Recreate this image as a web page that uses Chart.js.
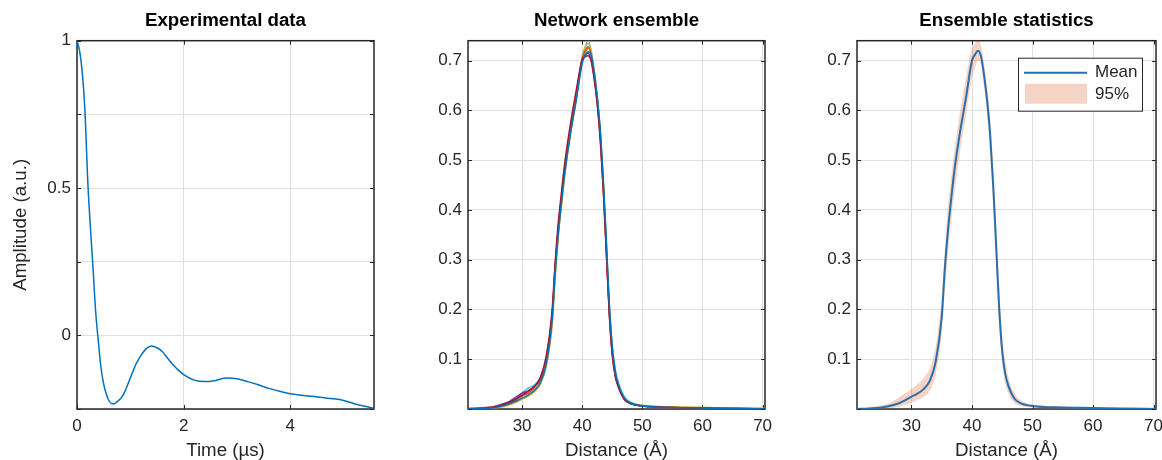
<!DOCTYPE html>
<html>
<head>
<meta charset="utf-8">
<script src="https://cdn.jsdelivr.net/npm/chart.js@4.4.1/dist/chart.umd.min.js"></script>
<style>
    body { margin: 0; background: #fff; }
    canvas { position: absolute; top: 0; }
</style>
</head>
<body>
<canvas id="expData" width="390" height="460" style="left:0"></canvas>
<canvas id="ensemble" width="390" height="460" style="left:390px"></canvas>
<canvas id="stats" width="382" height="460" style="left:780px"></canvas>
<script>
// experimental trace
const timeUs = [0, 0.05, 0.1, 0.15, 0.2, 0.25, 0.3, 0.35, 0.4, 0.45, 0.5, 0.55, 0.6, 0.65, 0.7, 0.75, 0.8, 0.85, 0.9, 0.95,
    1.0, 1.05, 1.1, 1.15, 1.2, 1.3, 1.4, 1.5, 1.6, 1.7, 1.8, 1.9, 2.0, 2.2, 2.4, 2.6, 2.8, 3.0, 3.2, 3.4, 3.6, 3.8,
    4.0, 4.2, 4.4, 4.6, 4.8, 5.0, 5.2, 5.4, 5.57];
const amplitude = [1.0, 0.965, 0.89, 0.76, 0.53, 0.37, 0.23, 0.08, -0.02, -0.11, -0.165, -0.20, -0.222, -0.232, -0.232, -0.226, -0.218, -0.207, -0.19, -0.168,
    -0.145, -0.122, -0.10, -0.083, -0.068, -0.045, -0.036, -0.042, -0.055, -0.078, -0.10, -0.118, -0.133, -0.152, -0.157, -0.153, -0.145, -0.147, -0.157, -0.168, -0.180, -0.190,
    -0.198, -0.203, -0.207, -0.211, -0.215, -0.221, -0.232, -0.241, -0.248];

// distance distributions
const distance = [21, 23, 25, 26, 27, 28, 29, 30, 31, 32, 33, 34, 35, 35.5, 36, 36.5, 37, 37.5, 38, 39,
    40, 40.5, 41, 41.5, 42, 42.5, 43, 43.5, 44, 44.5, 45, 45.5, 46, 47, 48, 50, 55, 60, 65, 70.4];

const run1 = [0, .001, .002, .004, .007, .011, .016, .022, .028, .037, .052, .09, .18, .275, .35, .41, .465, .51, .55, .62,
    .695, .71, .718, .71, .675, .625, .56, .46, .34, .21, .125, .075, .05, .022, .012, .006, .003, .002, .001, 0];
const run2 = [0, .001, .003, .006, .009, .014, .02, .028, .036, .045, .062, .105, .2, .295, .372, .43, .485, .53, .57, .64,
    .702, .708, .71, .698, .662, .612, .54, .44, .315, .19, .108, .065, .044, .019, .011, .006, .003, .002, .001, 0];
const run3 = [0, .002, .004, .006, .009, .013, .019, .026, .032, .042, .06, .10, .19, .285, .36, .42, .475, .52, .56, .63,
    .705, .72, .728, .712, .672, .62, .548, .445, .32, .195, .11, .067, .045, .02, .011, .006, .003, .002, .001, 0];
const run4 = [0, 0, .002, .003, .005, .009, .014, .02, .026, .034, .05, .088, .178, .272, .348, .41, .465, .512, .552, .625,
    .705, .725, .735, .715, .675, .622, .552, .452, .328, .2, .113, .068, .045, .02, .011, .006, .004, .003, .002, .001];
const run5 = [.001, .002, .004, .007, .011, .016, .024, .032, .036, .044, .058, .096, .19, .285, .36, .418, .472, .518, .558, .628,
    .7, .712, .715, .7, .665, .615, .545, .445, .32, .195, .112, .068, .046, .02, .011, .006, .003, .002, .001, 0];
const run6 = [0, .001, .002, .004, .006, .009, .014, .02, .027, .035, .05, .085, .17, .265, .345, .405, .46, .508, .55, .622,
    .698, .715, .725, .712, .675, .625, .555, .455, .33, .205, .118, .072, .048, .022, .013, .007, .004, .003, .002, .001];
const run7 = [0, .001, .003, .006, .01, .015, .022, .032, .042, .048, .062, .1, .188, .282, .358, .418, .472, .518, .56, .632,
    .708, .728, .74, .72, .68, .63, .56, .462, .34, .215, .128, .08, .054, .025, .014, .007, .004, .002, .001, 0];
const runColors = ['#0072BD', '#A2142F', '#D95319', '#EDB120', '#7E2F8E', '#77AC30', '#4DBEEE'];

const meanP = [0, .001, .003, .005, .008, .012, .018, .025, .031, .040, .056, .095, .185, .28, .355, .415, .47, .515, .555, .625,
    .70, .712, .72, .708, .67, .62, .55, .45, .325, .20, .115, .07, .047, .021, .012, .006, .003, .002, .001, 0];
const lowerP = [0, 0, 0, 0, .002, .004, .008, .012, .018, .024, .036, .070, .150, .235, .31, .37, .425, .47, .515, .59,
    .665, .685, .70, .69, .645, .59, .515, .41, .285, .165, .09, .05, .032, .012, .006, .003, .001, 0, 0, 0];
const upperP = [.001, .003, .007, .010, .016, .024, .032, .040, .050, .062, .082, .125, .225, .32, .40, .46, .51, .555, .595, .665,
    .725, .735, .742, .73, .695, .645, .585, .49, .37, .245, .145, .095, .065, .032, .018, .009, .005, .003, .002, .001];

const FONT = '"Liberation Sans", Arial, Helvetica, sans-serif';
const INK = '#262626';
Chart.defaults.font.family = FONT;
Chart.defaults.color = INK;
Chart.defaults.devicePixelRatio = 1;

function pts(xs, ys) {
    return xs.map((x, i) => ({ x: x, y: ys[i] }));
}

// box round the axes with inward tick marks
const boxPlugin = {
    id: 'axesBox',
    beforeDatasetsDraw(chart) {
        const { ctx, chartArea: a, scales } = chart;
        ctx.save();
        ctx.strokeStyle = INK;
        ctx.lineWidth = 1;
        ctx.beginPath();
        scales.x.ticks.forEach(t => {
            const px = Math.round(scales.x.getPixelForValue(t.value)) + 0.5;
            ctx.moveTo(px, a.top); ctx.lineTo(px, a.top + 4);
            ctx.moveTo(px, a.bottom); ctx.lineTo(px, a.bottom - 4);
        });
        scales.y.ticks.forEach(t => {
            const py = Math.round(scales.y.getPixelForValue(t.value)) + 0.5;
            ctx.moveTo(a.left, py); ctx.lineTo(a.left + 4, py);
            ctx.moveTo(a.right, py); ctx.lineTo(a.right - 4, py);
        });
        ctx.stroke();
        ctx.lineWidth = 1.5;
        ctx.strokeRect(a.left, a.top, a.width, a.height);
        ctx.restore();
    }
};

function makeScales(o) {
    return {
        x: {
            type: 'linear', min: o.xMin, max: o.xMax,
            grid: { color: '#dfdfdf', drawTicks: false },
            border: { display: false },
            ticks: { stepSize: o.xStep, includeBounds: false, padding: 7, maxRotation: 0, font: { size: 17 } },
            title: { display: true, text: o.xTitle, font: { size: 18.7, lineHeight: 1 }, padding: 0 },
            afterFit(s) { s.height = 51; s.paddingLeft = 0; s.paddingRight = 0; }
        },
        y: {
            type: 'linear', min: o.yMin, max: o.yMax,
            grid: { color: '#dfdfdf', drawTicks: false },
            border: { display: false },
            ticks: { stepSize: o.yStep, includeBounds: false, padding: 6, font: { size: 17 }, callback: o.yLabel },
            title: { display: !!o.yTitle, text: o.yTitle || '', font: { size: 18.7, lineHeight: 1 }, padding: { top: 12, bottom: 0 } },
            afterFit(s) { s.width = o.yWidth; s.paddingTop = 0; s.paddingBottom = 0; }
        }
    };
}

function titleOpts(text) {
    return {
        display: true, text: text, fullSize: false, color: '#000',
        font: { size: 18.7, weight: 'bold', lineHeight: 1 },
        padding: { top: 12, bottom: 10 }
    };
}

new Chart(document.getElementById('expData'), {
    type: 'line',
    data: {
        datasets: [{
            data: pts(timeUs, amplitude),
            borderColor: '#0072BD', borderWidth: 1.5,
            pointRadius: 0, cubicInterpolationMode: 'monotone'
        }]
    },
    options: {
        responsive: false, animation: false,
        layout: { padding: { top: 0, left: 0, right: 16, bottom: 0 } },
        scales: makeScales({
            xMin: 0, xMax: 5.57, xStep: 2, xTitle: 'Time (µs)',
            yMin: -0.25, yMax: 1, yStep: 0.25, yTitle: 'Amplitude (a.u.)', yWidth: 77,
            yLabel: v => Math.abs(v * 2 - Math.round(v * 2)) < 1e-9 ? String(Math.round(v * 2) / 2) : ''
        }),
        plugins: { legend: { display: false }, tooltip: { enabled: false }, title: titleOpts('Experimental data') }
    },
    plugins: [boxPlugin]
});

const runs = [run1, run2, run3, run4, run5, run6, run7];
new Chart(document.getElementById('ensemble'), {
    type: 'line',
    data: {
        datasets: runs.map((run, i) => ({
            data: pts(distance, run),
            borderColor: runColors[i], borderWidth: 1.5,
            pointRadius: 0, cubicInterpolationMode: 'monotone'
        }))
    },
    options: {
        responsive: false, animation: false,
        layout: { padding: { top: 0, left: 0, right: 15, bottom: 0 } },
        scales: makeScales({
            xMin: 21, xMax: 70.4, xStep: 10, xTitle: 'Distance (Å)',
            yMin: 0, yMax: 0.74, yStep: 0.1, yWidth: 78,
            yLabel: v => v === 0 ? '' : v.toFixed(1)
        }),
        plugins: { legend: { display: false }, tooltip: { enabled: false }, title: titleOpts('Network ensemble') }
    },
    plugins: [boxPlugin]
});

// legend drawn as a framed box inside the axes
const boxLegend = {
    id: 'boxLegend',
    afterDraw(chart) {
        const { ctx, chartArea: a } = chart;
        const ds = chart.data.datasets;
        const x0 = a.right - 138, y0 = a.top + 17;
        ctx.save();
        ctx.fillStyle = '#fff';
        ctx.fillRect(x0, y0, 124, 53);
        ctx.strokeStyle = INK;
        ctx.lineWidth = 1;
        ctx.strokeRect(x0 + 0.5, y0 + 0.5, 124, 53);
        ctx.strokeStyle = ds[0].borderColor;
        ctx.lineWidth = 2;
        ctx.beginPath();
        ctx.moveTo(x0 + 6, y0 + 15); ctx.lineTo(x0 + 69, y0 + 15);
        ctx.stroke();
        ctx.fillStyle = ds[1].backgroundColor;
        ctx.fillRect(x0 + 7, y0 + 26, 62, 20);
        ctx.fillStyle = INK;
        ctx.font = '17px ' + FONT;
        ctx.textBaseline = 'middle';
        ctx.fillText(ds[0].label, x0 + 77, y0 + 15);
        ctx.fillText(ds[1].label, x0 + 77, y0 + 37);
        ctx.restore();
    }
};

new Chart(document.getElementById('stats'), {
    type: 'line',
    data: {
        datasets: [
            {
                label: 'Mean', data: pts(distance, meanP),
                borderColor: '#2a6fab', borderWidth: 2,
                pointRadius: 0, cubicInterpolationMode: 'monotone', order: 0
            },
            {
                label: '95%', data: pts(distance, upperP),
                borderWidth: 0, borderColor: 'rgba(0,0,0,0)',
                backgroundColor: 'rgba(217,83,25,0.25)', fill: '+1',
                pointRadius: 0, cubicInterpolationMode: 'monotone', order: 1
            },
            {
                label: 'lower', data: pts(distance, lowerP),
                borderWidth: 0, borderColor: 'rgba(0,0,0,0)', fill: false,
                pointRadius: 0, cubicInterpolationMode: 'monotone', order: 2
            }
        ]
    },
    options: {
        responsive: false, animation: false,
        layout: { padding: { top: 0, left: 0, right: 6, bottom: 0 } },
        scales: makeScales({
            xMin: 21, xMax: 70.4, xStep: 10, xTitle: 'Distance (Å)',
            yMin: 0, yMax: 0.74, yStep: 0.1, yWidth: 77,
            yLabel: v => v === 0 ? '' : v.toFixed(1)
        }),
        plugins: { legend: { display: false }, tooltip: { enabled: false }, title: titleOpts('Ensemble statistics') }
    },
    plugins: [boxPlugin, boxLegend]
});
</script>
</body>
</html>
